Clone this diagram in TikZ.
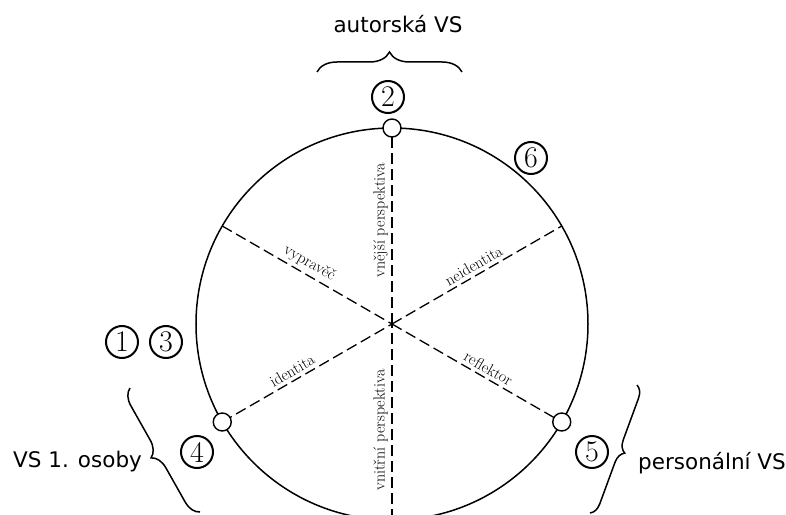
\documentclass[tikz,border=0pt]{standalone}
\usepackage{fontspec}
\newfontfamily\vsfont{DejaVu Sans}
\usetikzlibrary{decorations.pathreplacing}
\begin{document}
\begin{tikzpicture}[x=1pt, y=1pt,
    spoke/.style={line width=1.3pt, dash pattern=on 11pt off 5pt},
    spokelabel/.style={font=\fontsize{16}{16}\selectfont, sloped, above, inner sep=3.5pt},
    knot/.style={circle, draw, fill=white, line width=1.4pt, minimum size=18pt, inner sep=0pt},
    numbered/.style={circle, draw, line width=2pt, minimum size=32pt, inner sep=0pt, font=\fontsize{30}{30}\selectfont},
    vsbrace/.style={decorate, decoration={brace, amplitude=#1}, line width=1.5pt},
    vslabel/.style={font=\vsfont\fontsize{21.5}{24}\selectfont, inner sep=0pt}]

    \useasboundingbox (-392,-190) rectangle (394,324);

    % circle
    \coordinate (c) at (0,0);
    \draw[line width=1.5pt] (c) circle [radius=196];
    \foreach \a in {30,90,150,210,270,330} {
      \coordinate (e\a) at (\a:196);
    }

    % spokes
    \draw[spoke] (c) -- (e90) node[spokelabel, pos=0.53] {vnější perspektiva};
    \draw[spoke] (e270) -- (c) node[spokelabel, pos=0.46] {vnitřní perspektiva};
    \draw[spoke] (c) -- (e30) node[spokelabel, pos=0.51] {neidentita};
    \draw[spoke] (e210) -- (c) node[spokelabel, pos=0.44] {identita};
    \draw[spoke] (e150) -- (c) node[spokelabel, pos=0.48] {vypravěč};
    \draw[spoke] (c) -- (e330) node[spokelabel, pos=0.54] {reflektor};

    \node[knot] (k90) at (e90) {};
    \node[knot] (k210) at (e210) {};
    \node[knot] (k330) at (e330) {};

    % numbers
    \node[numbered] (n1) at (-270,-18) {1};
    \node[numbered] (n3) at (-226,-18) {3};
    \node[numbered] (n2) at (-4,227) {2};
    \node[numbered] (n6) at (139,166) {6};
    \node[numbered] (n4) at (-195,-128) {4};
    \node[numbered] (n5) at (200,-128) {5};

    % braces
    \coordinate (ta) at (-75,252);
    \coordinate (tb) at (70,252);
    \draw[vsbrace=20pt] (ta) -- (tb);
    \node[vslabel, anchor=base] (autor) at (6,291) {autorská VS};

    \coordinate (la) at (-192,-188);
    \coordinate (lb) at (-262,-64);
    \draw[vsbrace=16pt] (la) -- (lb);
    \node[vslabel, anchor=base west] (osoby) at (-379,-143) {VS 1. osoby};

    \coordinate (ra) at (245,-61);
    \coordinate (rb) at (198,-189);
    \draw[vsbrace=12pt] (ra) -- (rb);
    \node[vslabel, anchor=base west] (person) at (246,-145) {personální VS};

\end{tikzpicture}
\end{document}
